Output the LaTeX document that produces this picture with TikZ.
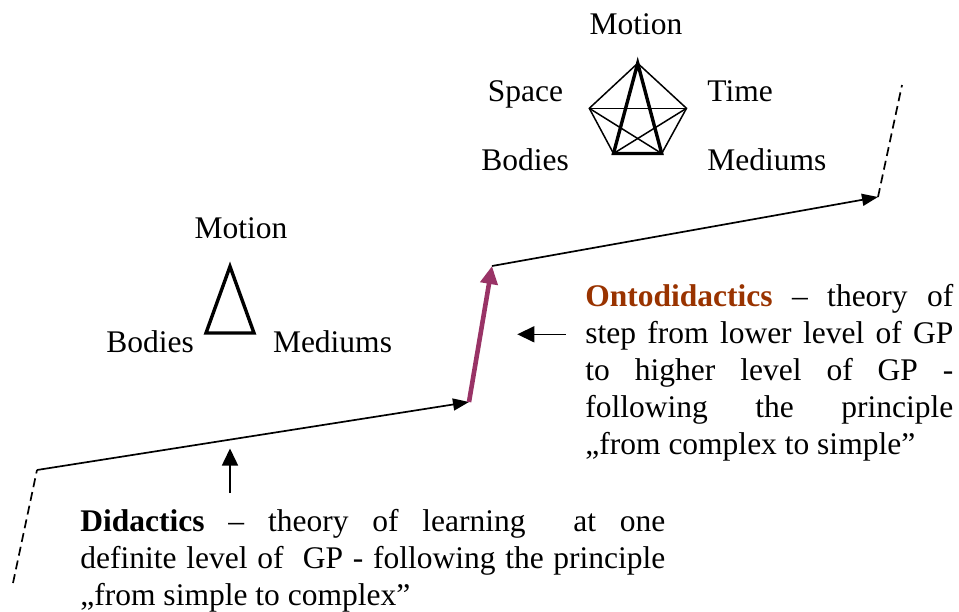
\documentclass[tikz,border=0pt]{standalone}
\usepackage{fontspec}
\setmainfont{Liberation Serif}
\usetikzlibrary{arrows.meta,positioning}
\definecolor{ontobrown}{HTML}{993300}
\definecolor{jumppurple}{HTML}{993366}

\begin{document}
\begin{tikzpicture}[x=0.5pt,y=-0.5pt,
  lab/.style={inner sep=0pt,font=\fontsize{15.75pt}{18.5pt}\selectfont},
  para/.style={lab,anchor=base west,align=justify},
  stair/.style={line width=0.85pt},
  stairarrow/.style={stair,-{Triangle[length=8pt,width=6pt]}},
  ext/.style={line width=0.85pt,dash pattern=on 4.5pt off 2.5pt},
  jump/.style={draw=jumppurple,line width=2.3pt,-{Triangle[length=9pt,width=8.5pt]}},
  pointer/.style={line width=0.75pt,-{Triangle[length=8.5pt,width=8pt]}},
  thinedge/.style={line width=0.75pt},
  thickedge/.style={line width=1.7pt}]
\useasboundingbox (0,0) rectangle (959,611);

% staircase of levels
\coordinate (s0) at (13,583);
\coordinate (s1) at (37,470);
\coordinate (s2) at (469,402);
\coordinate (s3) at (492,266);
\coordinate (s4) at (878,197);
\coordinate (s5) at (902,85);
\draw[ext] (s0) -- (s1);
\draw[stairarrow] (s1) -- (s2);
\draw[jump] (s2) -- (s3);
\draw[stairarrow] (s3) -- (s4);
\draw[ext] (s4) -- (s5);

% lower level: triangle
\coordinate (tt) at (230,266.5);
\coordinate (tl) at (206,333);
\coordinate (tr) at (254,333);
\draw[thickedge] (tt) -- (tl) -- (tr) -- cycle;
\node[lab,anchor=base] (motionA) at (241,238) {Motion};
\node[lab,anchor=base] (bodiesA) at (150,352) {Bodies};
\node[lab,anchor=base] (mediumsA) at (332.5,352) {Mediums};

% higher level: pentagon
\coordinate (pt) at (637.7,63.3);
\coordinate (pl) at (589.3,108.3);
\coordinate (pr) at (686.5,108.3);
\coordinate (pbl) at (613.5,153.5);
\coordinate (pbr) at (661.7,153.5);
\draw[thinedge] (pbl) -- (pl) -- (pt) -- (pr) -- (pbr);
\draw[thinedge] (pl) -- (pr);
\draw[thinedge] (pl) -- (pbr);
\draw[thinedge] (pr) -- (pbl);
\draw[thickedge] (pt) -- (pbl) -- (pbr) -- cycle;
\node[lab,anchor=base] (motionB) at (636,34) {Motion};
\node[lab,anchor=base] (space) at (525.5,101.7) {Space};
\node[lab,anchor=base west] (time) at (707,101.7) {Time};
\node[lab,anchor=base] (bodiesB) at (525,170) {Bodies};
\node[lab,anchor=base west] (mediumsB) at (707,170) {Mediums};

% explanations
\node[para,text width=184pt] (onto) at (585,306)
  {\textbf{\textcolor{ontobrown}{Ontodidactics}} -- theory of\linebreak
   step from lower level of GP\linebreak
   to higher level of GP -\linebreak
   following the principle\linebreak
   „from complex to simple”};
\node[para,text width=292.5pt] (dida) at (80,531)
  {\textbf{Didactics} -- theory of learning \ at one\linebreak
   definite level of \ GP - following the principle\linebreak
   „from simple to complex”};
\coordinate (ontotail) at (565.7,334.3);
\coordinate (ontohead) at (517.3,334.3);
\draw[pointer] (ontotail) -- (ontohead);
\coordinate (didatail) at (230,493);
\coordinate (didahead) at (230,448.5);
\draw[pointer] (didatail) -- (didahead);
\end{tikzpicture}
\end{document}
